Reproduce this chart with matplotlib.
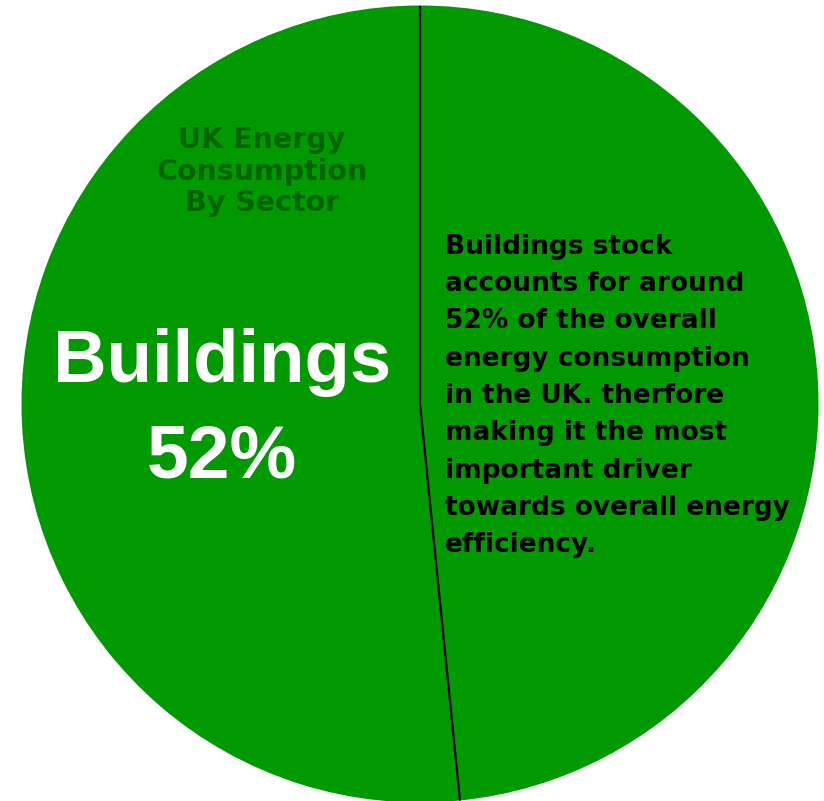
import numpy as np
import matplotlib
matplotlib.use('Agg')
import matplotlib.pyplot as plt

# share of UK energy use
sectors = ['Buildings', 'Other']
shares = [51.6, 48.4]
slice_colors = ['#009900', '#009900']

big_label = ['Buildings', '52%']
title_lines = ['UK Energy', 'Consumption', 'By Sector']
note_lines = ['Buildings stock',
              'accounts for around',
              '52% of the overall',
              'energy consumption',
              'in the UK. therfore',
              'making it the most',
              'important driver',
              'towards overall energy',
              'efficiency.']

W, H = 824, 801
fig = plt.figure(figsize=(W / 100, H / 100), dpi=100)
ax = fig.add_axes([0, 0, 1, 1])

cx, cy, r = 420, H - 404, 398.5
wedges, _ = ax.pie(shares, colors=slice_colors, startangle=90, counterclock=True,
                   radius=r, center=(cx, cy), wedgeprops=dict(linewidth=0))

# black divider lines only between slices, not round the rim
for ang in [wedges[0].theta1, wedges[0].theta2]:
    a = np.deg2rad(ang)
    ax.plot([cx, cx + r * np.cos(a)], [cy, cy + r * np.sin(a)], color='black', lw=1.6,
            solid_capstyle='butt')

ax.text(222, H - 382, big_label[0], color='white', fontsize=53.5, fontweight='bold',
        family='Liberation Sans', ha='center', va='baseline')
ax.text(222, H - 478, big_label[1], color='white', fontsize=54, fontweight='bold',
        family='Liberation Sans', ha='center', va='baseline')

for i, line in enumerate(title_lines):
    ax.text(262, H - (148 + i * 31.5), line, color='#006400', fontsize=20.5, fontweight='bold',
            family='DejaVu Sans', ha='center', va='baseline')

for i, line in enumerate(note_lines):
    ax.text(445, H - (254 + i * 37.25), line, color='black', fontsize=19, fontweight='bold',
            family='DejaVu Sans', ha='left', va='baseline')

ax.set_xlim(0, W)
ax.set_ylim(0, H)
ax.set_aspect('equal')
ax.axis('off')

fig.savefig('out.png', dpi=100, facecolor='white')
plt.close()
